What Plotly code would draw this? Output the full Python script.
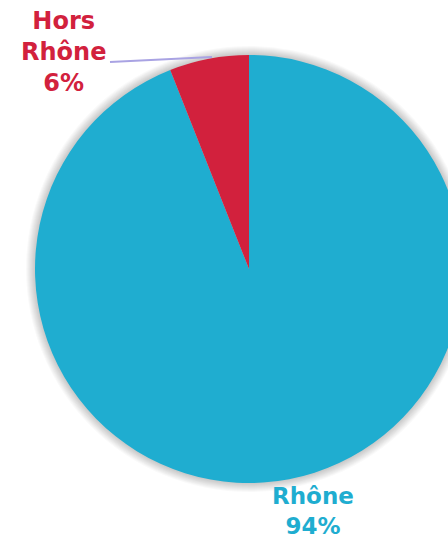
import plotly.graph_objects as go

# Share of records by area
labels = ["Rhône", "Hors Rhône"]
values = [94, 6]
colors = ["#1FADD0", "#D2213D"]

W, H = 480, 539
CX, CY, R = 249, 269, 214  # pie centre and radius in pixels (from top-left)


def pie_domain(radius):
    return dict(
        x=[(CX - radius) / W, (CX + radius) / W],
        y=[(H - CY - radius) / H, (H - CY + radius) / H],
    )


fig = go.Figure()

# soft drop shadow: faint grey discs slightly larger than the pie
for k in range(9, 0, -1):
    fig.add_trace(go.Pie(
        values=[1],
        marker=dict(colors=["rgba(0,0,0,0.022)"], line=dict(width=0)),
        textinfo="none",
        hoverinfo="skip",
        showlegend=False,
        sort=False,
        domain=pie_domain(R + k),
    ))

fig.add_trace(go.Pie(
    labels=labels,
    values=values,
    marker=dict(colors=colors, line=dict(width=0)),
    sort=False,
    direction="clockwise",
    rotation=0,
    textinfo="none",
    hoverinfo="label+percent",
    showlegend=False,
    domain=pie_domain(R),
))

total = sum(values)
pct = [f"{round(v * 100 / total)}%" for v in values]

font_family = "DejaVu Sans, Verdana, sans-serif"

annotations = [
    # Hors Rhône label (top left)
    dict(
        text="<b>Hors<br>Rhône<br>" + pct[1] + "</b>",
        x=63 / W, y=1 - 52 / H, xref="paper", yref="paper",
        xanchor="center", yanchor="middle",
        showarrow=False, align="center",
        font=dict(family=font_family, size=24, color=colors[1]),
    ),
    # Rhône label (bottom)
    dict(
        text="<b>Rhône<br>" + pct[0] + "</b>",
        x=313 / W, y=1 - 511 / H, xref="paper", yref="paper",
        xanchor="center", yanchor="middle",
        showarrow=False, align="center",
        font=dict(family=font_family, size=23, color=colors[0]),
    ),
]

shapes = [
    # leader line from the small slice to its label
    dict(
        type="line", xref="paper", yref="paper",
        x0=110 / W, y0=1 - 62 / H, x1=212 / W, y1=1 - 57 / H,
        line=dict(color="#A9A3E3", width=2),
    ),
]

fig.update_layout(
    width=W, height=H,
    margin=dict(l=0, r=0, t=0, b=0),
    paper_bgcolor="white",
    plot_bgcolor="white",
    annotations=annotations,
    shapes=shapes,
)

fig.write_html("out.html")
